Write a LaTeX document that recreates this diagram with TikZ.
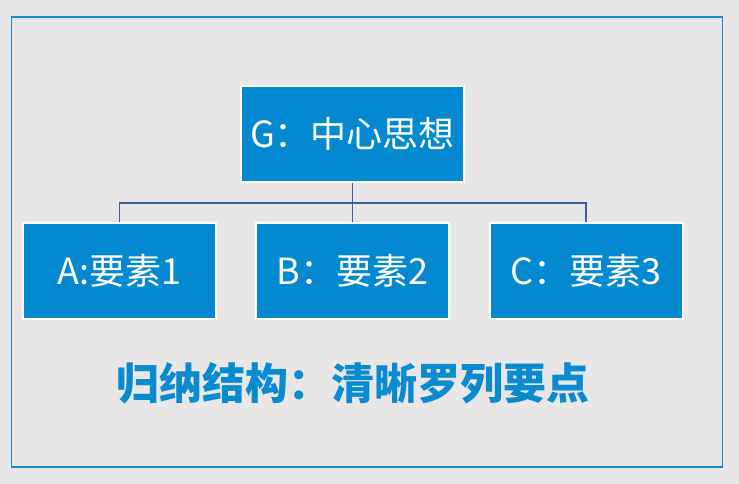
\documentclass[tikz,border=0pt]{standalone}
\usepackage{fontspec}
\newfontfamily\cjk{Noto Sans CJK SC}
\definecolor{bg}{HTML}{E8E6E7}
\definecolor{boxblue}{HTML}{0389D0}
\definecolor{framec}{HTML}{1A88CC}
\definecolor{linec}{HTML}{3F5E9E}
\definecolor{titlec}{HTML}{0A8BD0}
\tikzset{
  elem/.style={draw=white, line width=2pt, fill=boxblue, minimum width=193pt, minimum height=96pt, inner sep=0pt, text=white, font=\cjk\fontsize{36}{42}\selectfont},
  conn/.style={draw=linec, line width=1.6pt}
}
\begin{document}
\begin{tikzpicture}[x=1pt,y=-1pt]
\fill[bg] (0,0) rectangle (739,484);
\useasboundingbox (0,0) rectangle (739,484);
\draw[framec, line width=1.3pt] (11.5,17) rectangle (722.5,467);
\node[elem, minimum width=223pt] (g) at (352.5,134) {G：中心思想};
\node[elem] (a) at (119.5,271) {A:要素1};
\node[elem] (b) at (352.5,271) {B：要素2};
\node[elem] (c) at (586,271) {C：要素3};
\coordinate (j) at (352.5,203);
\draw[conn] (g.south) -- (j) -- (b.north);
\draw[conn] (a.north) |- (j) -| (c.north);
\node[text=titlec, font=\cjk\bfseries\fontsize{43}{50}\selectfont, inner sep=0pt] (t) at (352.5,383) {归纳结构：清晰罗列要点};
\end{tikzpicture}
\end{document}
